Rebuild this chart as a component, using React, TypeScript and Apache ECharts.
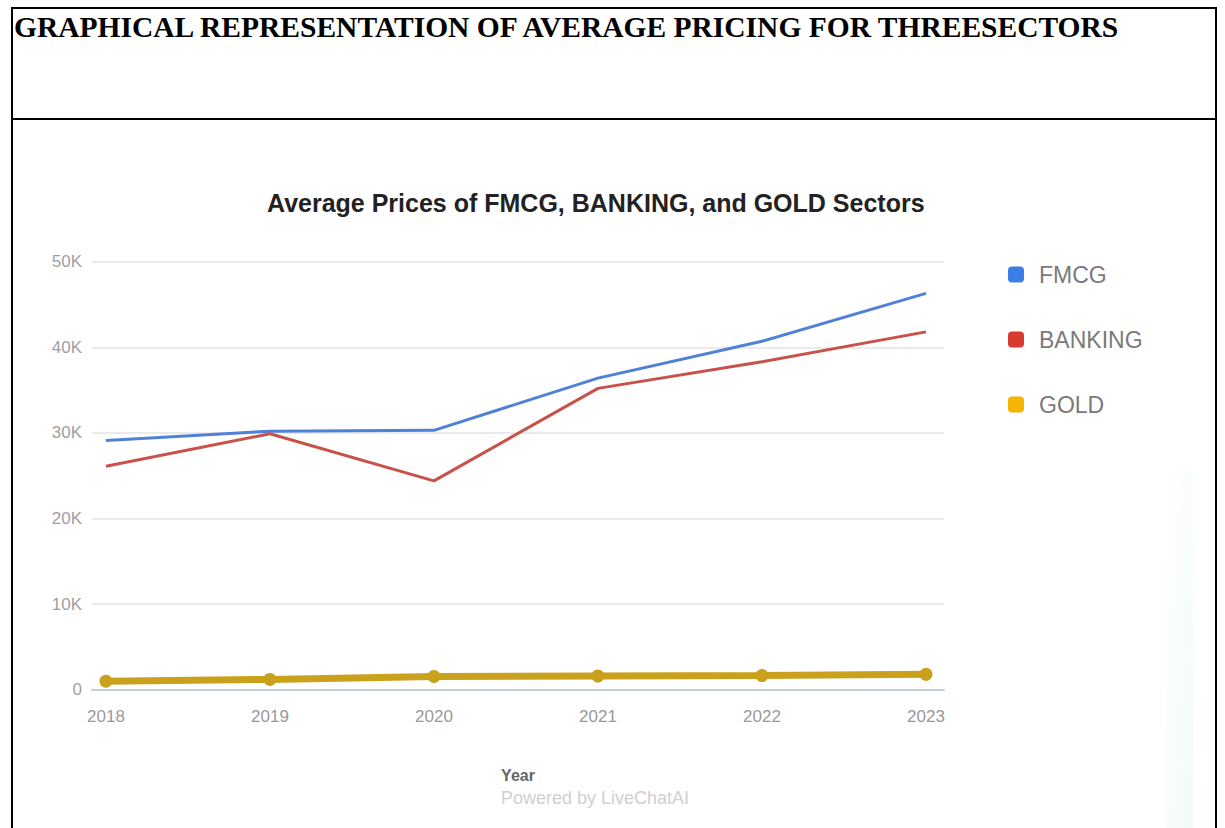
import React, { useEffect, useRef } from "react";
import * as echarts from "echarts";

const years = [2018, 2019, 2020, 2021, 2022, 2023];
const fmcg = [29100, 30200, 30300, 36400, 40700, 46300];
const banking = [26100, 29900, 24400, 35200, 38300, 41800];
const gold = [1000, 1200, 1550, 1600, 1650, 1800];
const seriesNames = ["FMCG", "BANKING", "GOLD"];
const legendColors = ["#3b7ee8", "#d83b30", "#f4b400"];
const lineColors = ["#4f81d6", "#c8524a", "#c9a11c"];
const pageTitle = "GRAPHICAL REPRESENTATION OF AVERAGE PRICING FOR THREESECTORS";
const chartTitle = "Average Prices of FMCG, BANKING, and GOLD Sectors";
const xName = "Year";
const footer = "Powered by LiveChatAI";

const toPairs = (vals: number[]) => years.map((y, i) => [y, vals[i]]);

export default function App() {
  const ref = useRef<HTMLDivElement>(null);
  useEffect(() => {
    if (!ref.current) return;
    const chart = echarts.init(ref.current, null, { renderer: "svg" });
    const sans = "'Liberation Sans', Arial, sans-serif";
    chart.setOption({
      animation: false,
      backgroundColor: "#ffffff",
      textStyle: { fontFamily: sans },
      title: {
        text: chartTitle,
        left: 267,
        top: 190,
        padding: 0,
        textStyle: { fontSize: 25, fontWeight: "bold", color: "#222", fontFamily: sans },
      },
      legend: {
        orient: "vertical",
        left: 1008,
        top: 263,
        padding: 0,
        itemWidth: 16,
        itemHeight: 16,
        itemGap: 42,
        icon: "roundRect",
        data: seriesNames.map((n, i) => ({ name: n, itemStyle: { color: legendColors[i] } })),
        textStyle: { fontSize: 23, color: "#7a7a7a", padding: [0, 0, 0, 10], fontFamily: sans },
      },
      grid: { left: 92, right: 281, top: 261.7, bottom: 138.3, containLabel: false },
      xAxis: {
        type: "value",
        min: 2017.915,
        max: 2023.11,
        splitLine: { show: false },
        axisTick: { show: false },
        axisLine: { show: true, lineStyle: { color: "#c6ccd8", width: 2 } },
        axisLabel: {
          customValues: years,
          color: "#999",
          fontSize: 17,
          margin: 18,
          formatter: (v: number) => String(Math.round(v)),
        },
        name: xName,
        nameLocation: "middle",
        nameGap: 78,
        nameTextStyle: { fontSize: 16, fontWeight: "bold", color: "#666" },
      },
      yAxis: {
        type: "value",
        min: 0,
        max: 50000,
        interval: 10000,
        axisLine: { show: false },
        axisTick: { show: false },
        splitLine: { lineStyle: { color: "#ebebeb", width: 2 } },
        axisLabel: {
          color: "#a0a0a0",
          fontSize: 17,
          margin: 10,
          formatter: (v: number) => (v === 0 ? "0" : v / 1000 + "K"),
        },
      },
      series: [
        {
          name: seriesNames[0],
          type: "line",
          data: toPairs(fmcg),
          showSymbol: false,
          lineStyle: { color: lineColors[0], width: 3 },
          itemStyle: { color: lineColors[0] },
        },
        {
          name: seriesNames[1],
          type: "line",
          data: toPairs(banking),
          showSymbol: false,
          lineStyle: { color: lineColors[1], width: 3 },
          itemStyle: { color: lineColors[1] },
        },
        {
          name: seriesNames[2],
          type: "line",
          data: toPairs(gold),
          symbol: "circle",
          symbolSize: 13,
          lineStyle: { color: lineColors[2], width: 7 },
          itemStyle: { color: lineColors[2] },
        },
      ],
      graphic: [
        {
          type: "rect",
          z: 0,
          shape: { x: 1166, y: 470, width: 27, height: 358 },
          style: {
            fill: new echarts.graphic.LinearGradient(0, 0, 1, 1, [
              { offset: 0, color: "rgba(242,252,245,0)" },
              { offset: 1, color: "#f1fcf4" },
            ]),
          },
        },
        {
          type: "text",
          x: 14,
          y: 27,
          z: 10,
          style: {
            text: pageTitle,
            font: "bold 29.5px 'Liberation Serif', 'Times New Roman', serif",
            fill: "#000",
            verticalAlign: "middle",
          },
        },
        {
          type: "text",
          x: 501,
          y: 798,
          style: {
            text: footer,
            font: "18px 'Liberation Sans', Arial, sans-serif",
            fill: "#d0d0d0",
            verticalAlign: "middle",
          },
        },
        { type: "rect", z: 10, shape: { x: 11, y: 7, width: 1206, height: 2 }, style: { fill: "#000" } },
        { type: "rect", z: 10, shape: { x: 11, y: 118, width: 1206, height: 2 }, style: { fill: "#000" } },
        { type: "rect", z: 10, shape: { x: 11, y: 7, width: 2, height: 821 }, style: { fill: "#000" } },
        { type: "rect", z: 10, shape: { x: 1215, y: 7, width: 2, height: 821 }, style: { fill: "#000" } },
      ],
    });
    return () => chart.dispose();
  }, []);
  return (
    <div
      ref={ref}
      style={{ position: "absolute", left: 0, top: 0, width: 1225, height: 828 }}
    />
  );
}
